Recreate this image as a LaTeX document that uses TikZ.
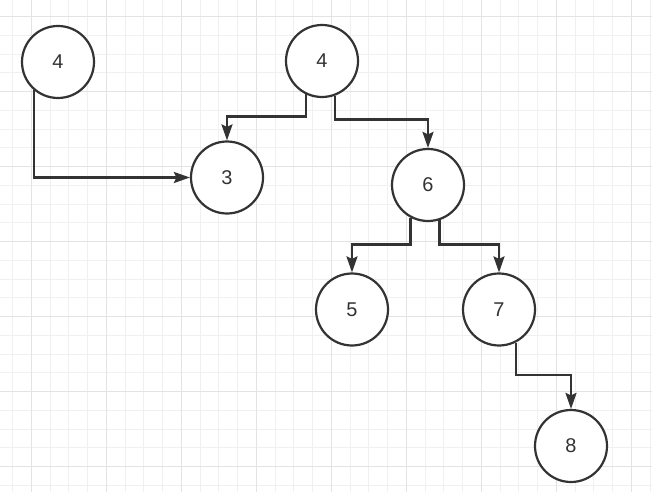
\documentclass[tikz,border=0pt]{standalone}
\usepackage{fontspec}
\setmainfont{Liberation Sans}
\usetikzlibrary{arrows.meta}
\definecolor{minorgrid}{HTML}{F0F0F0}
\definecolor{majorgrid}{HTML}{E3E3E3}
\definecolor{ink}{HTML}{333333}
\tikzset{
  minorline/.style={draw=minorgrid, line width=1bp},
  majorline/.style={draw=majorgrid, line width=1bp},
  treenode/.style={circle, draw=ink, line width=2.2bp, fill=white, minimum size=72bp, inner sep=0pt,
    font=\fontsize{20}{23}\selectfont, text=ink},
  link/.style={draw=ink, line width=2.2bp, -{Stealth[length=16bp,width=11bp,inset=2.5bp]}},
}
\begin{document}
\begin{tikzpicture}[x=1bp, y=-1bp]
\useasboundingbox (0,0) rectangle (652,492);
\fill[white] (0,0) rectangle (652,492);
% grid
\foreach \i in {0,...,34} \draw[minorline] ({12.7+18.75*\i},0) -- ++(0,492);
\foreach \i in {0,...,25} \draw[minorline] (0,{16.7+18.75*\i}) -- ++(652,0);
\foreach \i in {0,...,8} \draw[majorline] ({31.7+75*\i},0) -- ++(0,492);
\foreach \i in {0,...,6} \draw[majorline] (0,{16.7+75*\i}) -- ++(652,0);
% nodes
\node[treenode] (A) at (58,62) {4};
\node[treenode] (B) at (322,61) {4};
\node[treenode] (C) at (227,177.5) {3};
\node[treenode] (D) at (428,185) {6};
\node[treenode] (E) at (352,309.5) {5};
\node[treenode] (F) at (499,309.5) {7};
\node[treenode] (G) at (571,446) {8};
% bend levels
\coordinate (bc) at (0,116.5);
\coordinate (bd) at (0,119.5);
\coordinate (de) at (0,244.5);
\coordinate (fg) at (0,375);
% connectors
\draw[link] (A.230) |- (C.west);
\draw[link] (B.244) -- (B.244 |- bc) -| (C.north);
\draw[link] (B.291) -- (B.291 |- bd) -| (D.north);
\draw[link] (D.242) -- (D.242 |- de) -| (E.north);
\draw[link] (D.288) -- (D.288 |- de) -| (F.north);
\draw[link] (F.297) -- (F.297 |- fg) -| (G.north);
\end{tikzpicture}
\end{document}
